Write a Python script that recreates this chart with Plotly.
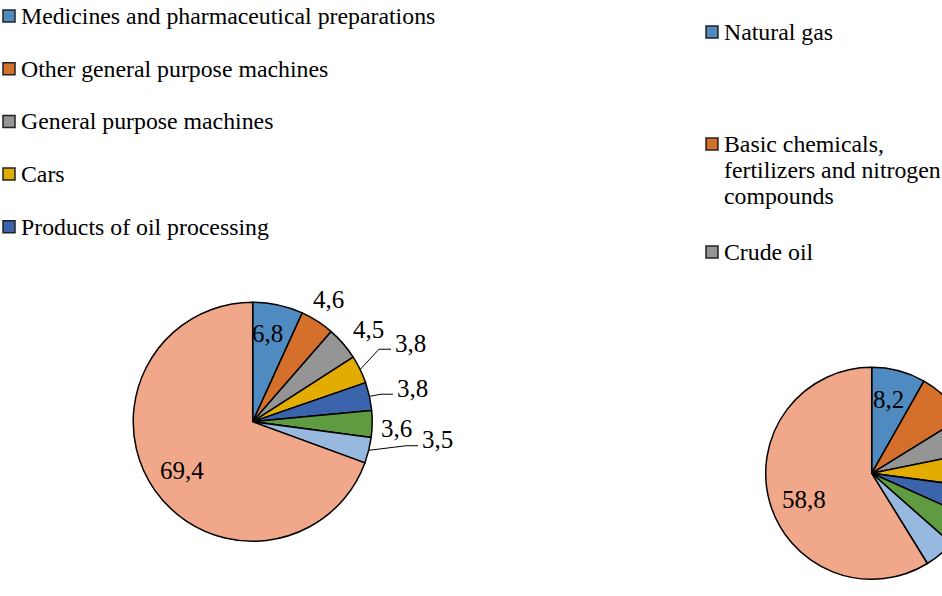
import math
import plotly.graph_objects as go

# ---------------- data ----------------
left_legend = ["Medicines and pharmaceutical preparations",
               "Other general purpose machines",
               "General purpose machines",
               "Cars",
               "Products of oil processing"]
left_labels = left_legend + ["Group 6", "Group 7", "Other"]
left_values = [6.8, 4.6, 4.5, 3.8, 3.8, 3.6, 3.5, 69.4]

right_legend = ["Natural gas",
                "Basic chemicals,<br>fertilizers and nitrogen<br>compounds",
                "Crude oil"]
right_labels = ["Natural gas", "Basic chemicals, fertilizers and nitrogen compounds",
                "Crude oil", "Group 4", "Group 5", "Group 6", "Group 7", "Other"]
right_values = [8.2, 8.0, 5.6, 5.3, 4.6, 4.8, 4.7, 58.8]

colors = ["#4F8BC1", "#D4702C", "#959595", "#E3AC00",
          "#3C64AD", "#5F9B41", "#97B9E0", "#F1A88A"]

# ---------------- layout / style ----------------
W, H = 1000, 596
FONT = "Liberation Serif, Times New Roman, Times, DejaVu Serif, serif"
LEG_SIZE = 23.8
LAB_SIZE = 25

L_CX, L_CY, L_R = 252.7, 421.7, 119.5
R_CX, R_CY, R_R = 871.7, 473.3, 106.0

left_lab_r = [0.745, 1.205, 1.239, 1.345, 1.223, 1.207, 1.408, 0.718]
left_lab_da = [-2.6, -1.1, 2.2, -3.3, -1.0, 1.5, -7.7, 0.0]
left_lab_anchor = ["center", "center", "center", "left", "left", "center", "left", "center"]
left_leader = [False, False, False, True, True, False, True, False]

right_lab_show = [True, False, False, False, False, False, False, True]
right_lab_r = [0.716, 1.2, 1.2, 1.2, 1.2, 1.2, 1.2, 0.684]
right_lab_da = [-2.2, 0, 0, 0, 0, 0, 0, -5.6]


def px2paper(px, py):
    return px / W, 1 - py / H


def polar(cx, cy, R, ang):
    a = math.radians(ang)
    return cx + R * math.sin(a), cy - R * math.cos(a)


def mid_angles(values):
    tot = sum(values)
    out, cum = [], 0.0
    for v in values:
        out.append(360.0 * (cum + v / 2) / tot)
        cum += v
    return out


def domain(cx, cy, r):
    return dict(x=[(cx - r) / W, (cx + r) / W],
                y=[1 - (cy + r) / H, 1 - (cy - r) / H])


fig = go.Figure()
for labels, values, (cx, cy, r) in [(left_labels, left_values, (L_CX, L_CY, L_R)),
                                    (right_labels, right_values, (R_CX, R_CY, R_R))]:
    fig.add_trace(go.Pie(
        labels=labels, values=values, sort=False, direction="clockwise", rotation=0,
        marker=dict(colors=colors, line=dict(color="black", width=1.5)),
        textinfo="none", showlegend=False, domain=domain(cx, cy, r),
    ))

annotations = []
shapes = []


def fmt(v):
    return f"{v:.1f}".replace(".", ",")


# left pie labels
for i, (v, ang) in enumerate(zip(left_values, mid_angles(left_values))):
    lx, ly = polar(L_CX, L_CY, L_R * left_lab_r[i], ang + left_lab_da[i])
    x, y = px2paper(lx, ly)
    annotations.append(dict(x=x, y=y, xref="paper", yref="paper", text=fmt(v),
                            showarrow=False, xanchor=left_lab_anchor[i], yanchor="middle",
                            font=dict(family=FONT, size=LAB_SIZE, color="black")))
    if left_leader[i]:
        ex, ey = polar(L_CX, L_CY, L_R, ang)
        pts = [(ex, ey), (lx - 14, ly + 6), (lx - 2, ly + 6)]
        pp = [px2paper(*p) for p in pts]
        path = "M {} {} L {} {} L {} {}".format(*[c for p in pp for c in p])
        shapes.append(dict(type="path", xref="paper", yref="paper", path=path,
                           line=dict(color="black", width=1)))

# right pie labels (only those inside the visible frame)
for i, (v, ang) in enumerate(zip(right_values, mid_angles(right_values))):
    if not right_lab_show[i]:
        continue
    lx, ly = polar(R_CX, R_CY, R_R * right_lab_r[i], ang + right_lab_da[i])
    x, y = px2paper(lx, ly)
    annotations.append(dict(x=x, y=y, xref="paper", yref="paper", text=fmt(v),
                            showarrow=False, xanchor="center", yanchor="middle",
                            font=dict(family=FONT, size=LAB_SIZE, color="black")))

# manual legends
left_leg_x, left_leg_y0, left_leg_dy = 3, 16, 52.7
right_leg_x = 706
right_leg_y = [32, 144, 252]
SQ = 12
LINE_H = 26
TXT_GAP = 3.5


def legend_item(sx, sy, color, text):
    x0, y0 = px2paper(sx, sy - SQ / 2)
    x1, y1 = px2paper(sx + SQ, sy + SQ / 2)
    shapes.append(dict(type="rect", xref="paper", yref="paper", x0=x0, x1=x1, y0=y0, y1=y1,
                       fillcolor=color, line=dict(color="#222222", width=1.5)))
    for k, line in enumerate(text.split("<br>")):
        tx, ty = px2paper(sx + SQ + TXT_GAP, sy + k * LINE_H)
        annotations.append(dict(x=tx, y=ty, xref="paper", yref="paper", text=line,
                                showarrow=False, xanchor="left", yanchor="middle",
                                font=dict(family=FONT, size=LEG_SIZE, color="black")))


for i, name in enumerate(left_legend):
    legend_item(left_leg_x, left_leg_y0 + i * left_leg_dy, colors[i], name)
for i, name in enumerate(right_legend):
    legend_item(right_leg_x, right_leg_y[i], colors[i], name)

fig.update_layout(
    width=W, height=H, autosize=False,
    margin=dict(l=0, r=0, t=0, b=0),
    paper_bgcolor="white", plot_bgcolor="white",
    annotations=annotations, shapes=shapes,
    font=dict(family=FONT),
)

fig.write_html("out.html", post_script=(
    "document.body.style.margin='0';"
    "document.body.style.overflow='hidden';"
    "document.documentElement.style.overflow='hidden';"))
